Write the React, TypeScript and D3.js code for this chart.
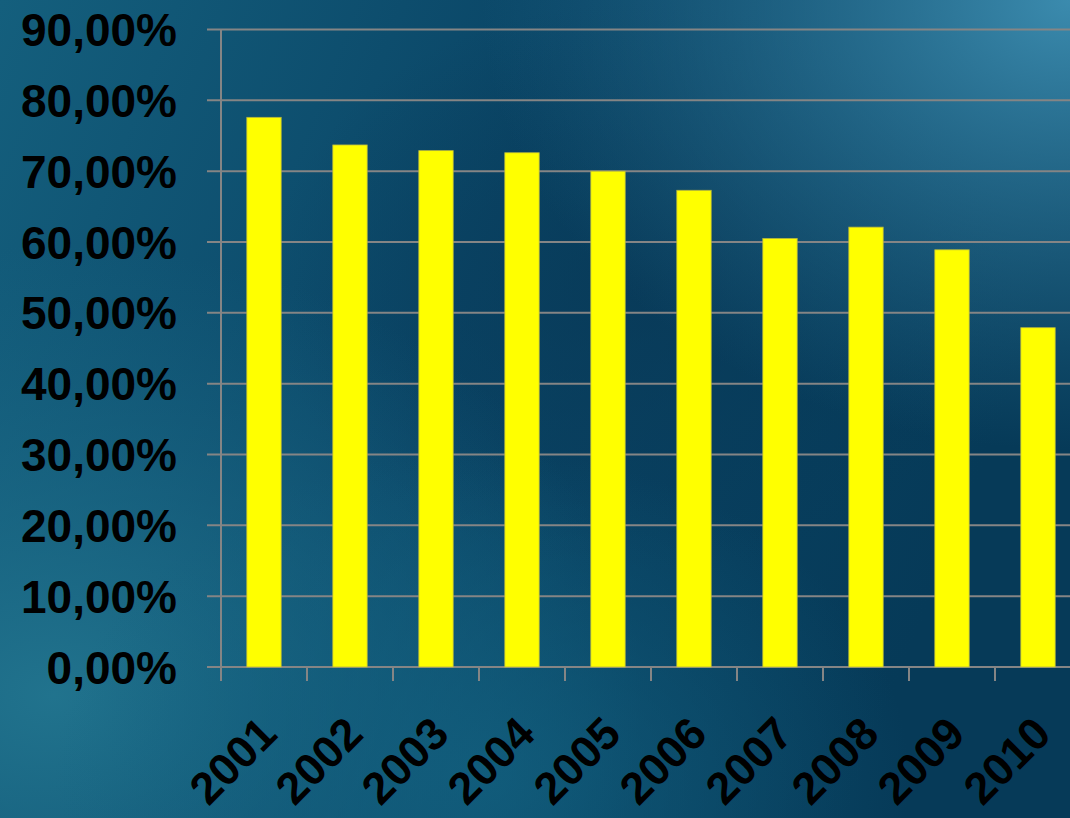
import React from "react";
import * as d3 from "d3";

const years = ["2001", "2002", "2003", "2004", "2005", "2006", "2007", "2008", "2009", "2010"];
const values = [77.6, 73.7, 72.9, 72.6, 70.0, 67.3, 60.5, 62.1, 58.9, 47.9];
const yTicks = [0, 10, 20, 30, 40, 50, 60, 70, 80, 90];

const W = 1070;
const H = 818;
const left = 221;
const bandW = 86;
const top = 29.5;
const bottom = 667;

export default function App() {
  const x = d3.scaleBand<string>().domain(years).range([left, left + bandW * years.length]).paddingInner(0.6).paddingOuter(0.3);
  const xTick = d3.scaleBand<string>().domain(years).range([left, left + bandW * years.length]);
  const y = d3.scaleLinear().domain([0, 90]).range([bottom, top]);
  const fmt = (v: number) => v.toFixed(2).replace(".", ",") + "%";

  return (
    <svg width={W} height={H} style={{ position: "absolute", left: 0, top: 0, display: "block" }}>
      <defs>
        <linearGradient id="bg1" x1="0" y1="0" x2="1" y2="0.3">
          <stop offset="0" stopColor="#145f7d" />
          <stop offset="0.5" stopColor="#0a4566" />
          <stop offset="1" stopColor="#063a58" />
        </linearGradient>
        <radialGradient id="bg2" cx="1" cy="0" r="0.55">
          <stop offset="0" stopColor="#3b8bae" stopOpacity="1" />
          <stop offset="1" stopColor="#2a7395" stopOpacity="0" />
        </radialGradient>
        <radialGradient id="bg3" cx="0.05" cy="0.85" r="0.55">
          <stop offset="0" stopColor="#22758f" stopOpacity="0.95" />
          <stop offset="1" stopColor="#1a6a88" stopOpacity="0" />
        </radialGradient>
        <radialGradient id="bg4" cx="0.45" cy="0.95" r="0.4">
          <stop offset="0" stopColor="#12607f" stopOpacity="0.8" />
          <stop offset="1" stopColor="#12607f" stopOpacity="0" />
        </radialGradient>
        <radialGradient id="bg5" cx="0.6" cy="0.35" r="0.35">
          <stop offset="0" stopColor="#083856" stopOpacity="0.7" />
          <stop offset="1" stopColor="#083856" stopOpacity="0" />
        </radialGradient>
      </defs>
      <rect width={W} height={H} fill="url(#bg1)" />
      <rect width={W} height={H} fill="url(#bg5)" />
      <rect width={W} height={H} fill="url(#bg3)" />
      <rect width={W} height={H} fill="url(#bg4)" />
      <rect width={W} height={H} fill="url(#bg2)" />

      {yTicks.map((t) => (
        <g key={t}>
          <line x1={207} x2={W + 20} y1={y(t)} y2={y(t)} stroke="#858585" strokeWidth={2} />
          <text
            x={177}
            y={y(t)}
            dy="0.36em"
            textAnchor="end"
            fontFamily="'Liberation Sans', Arial, sans-serif"
            fontWeight="bold"
            fontSize={46}
            fill="#000"
          >
            {fmt(t)}
          </text>
        </g>
      ))}
      <line x1={left} x2={left} y1={top} y2={bottom + 14} stroke="#858585" strokeWidth={2} />
      {years.map((yr) => (
        <line key={"t" + yr} x1={(xTick(yr) as number) + bandW} x2={(xTick(yr) as number) + bandW} y1={bottom} y2={bottom + 14} stroke="#858585" strokeWidth={2} />
      ))}

      {years.map((yr, i) => (
        <rect
          key={yr}
          x={x(yr)}
          y={y(values[i])}
          width={x.bandwidth()}
          height={bottom - y(values[i])}
          fill="#ffff00"
          stroke="#b5b540"
          strokeWidth={0.8}
        />
      ))}

      {years.map((yr) => {
        const cx = (xTick(yr) as number) + bandW / 2 - 7;
        const cy = 714;
        return (
          <text
            key={"l" + yr}
            transform={`translate(${cx},${cy}) rotate(-45)`}
            textAnchor="end"
            dy="0.7em"
            fontFamily="'Liberation Sans', Arial, sans-serif"
            fontWeight="bold"
            fontSize={45}
            fill="#000"
          >
            {yr}
          </text>
        );
      })}
    </svg>
  );
}
